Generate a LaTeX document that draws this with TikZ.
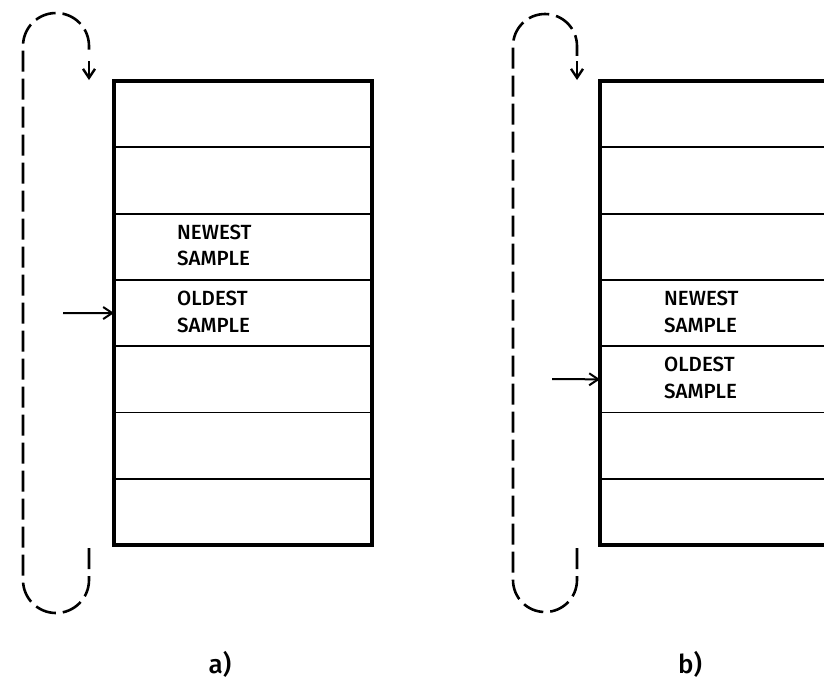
\documentclass[tikz,border=0pt]{standalone}
\usepackage{fontspec}
\setmainfont{Liberation Sans}
\newfontfamily\lblfont{Fira Sans Medium}
\usetikzlibrary{arrows.meta}
\begin{document}
\begin{tikzpicture}[x=1pt,y=-1pt,
  cell/.style={draw, line width=1.8pt, minimum width=258pt, minimum height=66.3pt, inner sep=0pt, outer sep=0pt},
  frame/.style={line width=4.2pt},
  txt/.style={anchor=west, align=left, inner sep=0pt, font=\lblfont\fontsize{20.5}{26.5}\selectfont},
  loopline/.style={line width=2.6pt, dash pattern=on 21pt off 7pt},
  ptr/.style={line width=2pt, -{Straight Barb[length=9pt,width=12pt,line width=2pt]}},
  looptip/.style={line width=2.6pt, -{Straight Barb[length=9pt,width=12pt,line width=2.4pt]}},
  captxt/.style={font=\lblfont\fontsize{26}{30}\selectfont, inner sep=0pt}]
\useasboundingbox (0,0) rectangle (824,681);
\clip (0,0) rectangle (824,681);
% left buffer a)
\foreach \i in {1,...,7}{
  \node[cell] (a\i) at (243,{81+66.3*(\i-0.5)}) {};
}
\draw[frame] (a1.north west) rectangle (a7.south east);
\node[txt] (an) at (177,245.5) {NEWEST\\SAMPLE};
\node[txt] (ao) at (177,312) {OLDEST\\SAMPLE};
\coordinate (ap) at (63,313);
\draw[ptr] (ap) -- (a4.west);
% loop a
\coordinate (al1) at (89,548);
\coordinate (al2) at (89,56);
\coordinate (al3) at (89,61);
\coordinate (al4) at (89,80);
\draw[loopline] (al1) -- (89,580) arc (0:180:33) -- (23,46) arc (180:360:33) -- (al2);
\draw[looptip] (al3) -- (al4);
\node[captxt] (la) at (220,664) {a)};
% right buffer b)
\foreach \i in {1,...,7}{
  \node[cell] (b\i) at (729,{81+66.3*(\i-0.5)}) {};
}
\draw[frame] (b1.north west) rectangle (b7.south east);
\node[txt] (bn) at (664,312) {NEWEST\\SAMPLE};
\node[txt] (bo) at (664,378) {OLDEST\\SAMPLE};
\coordinate (bp) at (552,379);
\draw[ptr] (bp) -- (b5.west);
% loop b
\coordinate (bl1) at (577,548);
\coordinate (bl2) at (577,56);
\coordinate (bl3) at (577,61);
\coordinate (bl4) at (577,80);
\draw[loopline] (bl1) -- (577,580) arc (0:180:32) -- (513,46) arc (180:360:32) -- (bl2);
\draw[looptip] (bl3) -- (bl4);
\node[captxt] (lb) at (690,664) {b)};
\end{tikzpicture}
\end{document}
